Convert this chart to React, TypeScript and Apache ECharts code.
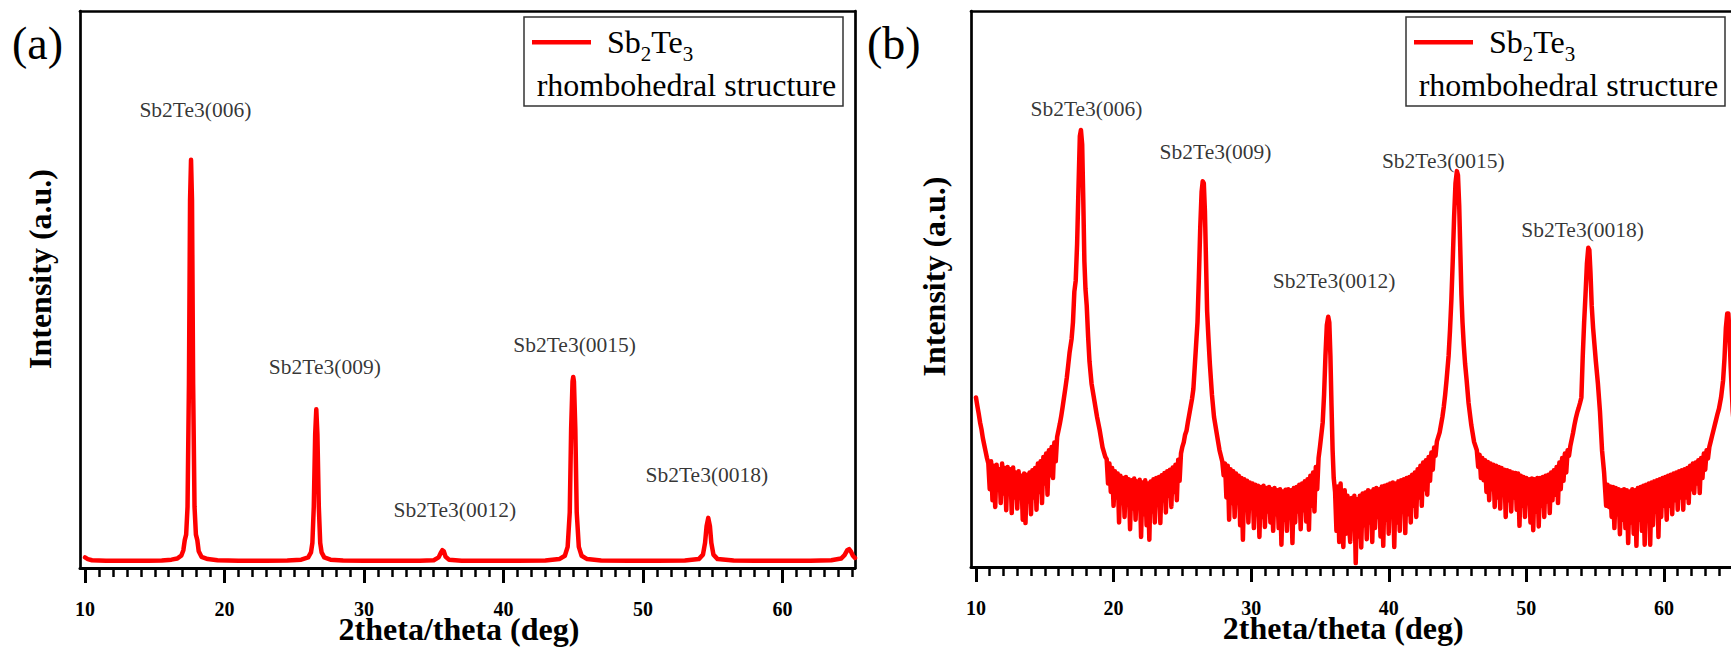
import React, { useEffect, useRef } from 'react';
import * as echarts from 'echarts';

const FONT = 'Liberation Serif';

// x-axis ticks
const majorTicks = [10, 20, 30, 40, 50, 60];
const minorTicks = [
  11, 12, 13, 14, 15, 16, 17, 18, 19,
  21, 22, 23, 24, 25, 26, 27, 28, 29,
  31, 32, 33, 34, 35, 36, 37, 38, 39,
  41, 42, 43, 44, 45, 46, 47, 48, 49,
  51, 52, 53, 54, 55, 56, 57, 58, 59,
  61, 62, 63, 64, 65,
];

// peak annotations
const peakLabels = ['Sb2Te3(006)', 'Sb2Te3(009)', 'Sb2Te3(0012)', 'Sb2Te3(0015)', 'Sb2Te3(0018)'];
const labelXA = [17.91, 27.19, 36.51, 45.1, 54.58];
const labelYA = [82.3, 36.0, 10.5, 40.1, 16.7];
const labelXB = [18.03, 27.41, 36.03, 43.96, 54.09];
const labelYB = [82.4, 74.6, 51.4, 73.1, 60.7];

// panel (a): 2theta (deg), intensity (a.u.)
const curveA: [number, number][] = [
  [10.0, 1.9], [10.2, 1.6], [10.5, 1.4], [11.5, 1.3], [13.0, 1.3], [14.5, 1.3], [15.5, 1.35], [16.2, 1.5],
  [16.6, 1.7], [16.9, 2.2], [17.05, 3.2], [17.15, 5.0], [17.25, 6.0], [17.35, 11], [17.45, 33], [17.53, 66],
  [17.6, 73.3], [17.67, 66], [17.75, 33], [17.85, 11], [17.95, 6.0], [18.05, 5.0], [18.15, 3.0], [18.35, 2.0],
  [18.8, 1.6], [19.5, 1.4], [21.0, 1.3], [23.0, 1.3], [24.5, 1.35], [25.5, 1.5], [26.0, 1.9], [26.2, 2.8],
  [26.3, 4.5], [26.4, 11], [26.5, 24], [26.58, 28.5], [26.66, 24], [26.76, 11], [26.86, 4.5], [26.96, 2.8],
  [27.15, 1.9], [27.6, 1.5], [28.5, 1.35], [30.0, 1.3], [32.0, 1.3], [34.0, 1.3], [35.0, 1.4], [35.35, 1.9],
  [35.5, 2.7], [35.62, 3.2], [35.72, 3.0], [35.85, 2.0], [36.1, 1.5], [37.0, 1.3], [39.0, 1.3], [41.0, 1.3],
  [43.0, 1.35], [44.0, 1.6], [44.4, 2.2], [44.6, 3.8], [44.75, 10], [44.85, 25], [44.95, 33.5], [45.0, 34.3],
  [45.05, 33.5], [45.15, 25], [45.25, 10], [45.4, 3.8], [45.6, 2.2], [46.0, 1.6], [47.0, 1.35], [49.0, 1.3],
  [51.0, 1.3], [53.0, 1.35], [54.0, 1.6], [54.3, 2.4], [54.45, 4.5], [54.56, 7.5], [54.68, 9.0], [54.8, 7.5],
  [54.9, 4.5], [55.05, 2.4], [55.35, 1.6], [56.5, 1.35], [58.0, 1.3], [60.0, 1.3], [62.0, 1.3], [63.5, 1.4],
  [64.2, 1.7], [64.45, 2.3], [64.65, 3.2], [64.78, 3.4], [64.9, 3.0], [65.05, 2.2], [65.2, 1.8],
];

// panel (b): 2theta (deg), intensity (a.u.)
const curveB: [number, number][] = [
  // start and background 10-16.8
  [10.0, 30.5], [10.1, 29.0], [10.2, 27.6], [10.3, 26.0], [10.4, 24.8], [10.5, 23.2], [10.6, 22.0], [10.7, 20.8],
  [10.8, 19.6], [10.9, 18.6], [11.0, 14.0], [11.1, 19.0], [11.2, 12.0], [11.3, 18.2], [11.4, 10.8], [11.5, 18.4],
  [11.6, 14.5], [11.7, 17.6], [11.8, 11.5], [11.9, 18.6], [12.0, 13.2], [12.1, 17.8], [12.2, 10.2], [12.3, 18.0],
  [12.4, 13.8], [12.5, 17.6], [12.6, 9.7], [12.7, 17.9], [12.8, 12.5], [12.9, 17.0], [13.0, 10.5], [13.1, 17.2],
  [13.2, 12.8], [13.3, 16.4], [13.4, 8.5], [13.5, 16.8], [13.6, 7.9], [13.7, 16.6], [13.8, 11.8], [13.9, 17.0],
  [14.0, 9.5], [14.1, 17.4], [14.2, 12.5], [14.3, 17.8], [14.4, 10.3], [14.5, 18.6], [14.6, 13.5], [14.7, 19.0],
  [14.8, 11.5], [14.9, 19.8], [15.0, 15.0], [15.1, 20.4], [15.2, 13.0], [15.3, 21.0], [15.4, 16.5], [15.5, 21.6],
  [15.6, 16.0], [15.7, 22.4], [15.8, 19.0], [15.9, 23.4], [16.0, 24.6], [16.1, 25.8], [16.2, 27.2], [16.3, 28.8],
  [16.4, 30.5], [16.5, 32.2], [16.6, 34.0], [16.7, 36.2], [16.8, 38.5],
  // (006)
  [16.95, 41.0], [17.05, 44.0], [17.15, 49.5], [17.25, 51.5], [17.35, 58.0], [17.45, 68.0], [17.55, 77.5], [17.63, 78.6],
  [17.72, 76.0], [17.8, 66.0], [17.88, 55.0], [17.96, 50.0], [18.05, 47.0], [18.15, 41.5], [18.25, 37.0], [18.4, 33.0],
  [18.6, 30.0], [18.8, 27.0], [19.0, 24.5], [19.2, 21.5], [19.4, 19.8],
  // background 19.5-25.8
  [19.5, 19.4], [19.6, 15.0], [19.7, 18.6], [19.8, 13.5], [19.9, 17.8], [20.0, 11.0], [20.1, 17.2], [20.2, 12.5],
  [20.3, 16.8], [20.4, 8.0], [20.5, 16.4], [20.6, 11.5], [20.7, 16.0], [20.8, 9.0], [20.9, 16.2], [21.0, 12.0],
  [21.1, 15.8], [21.2, 6.8], [21.3, 15.6], [21.4, 10.5], [21.5, 15.9], [21.6, 8.5], [21.7, 15.4], [21.8, 11.0],
  [21.9, 15.7], [22.0, 5.4], [22.1, 15.2], [22.2, 9.5], [22.3, 15.6], [22.4, 7.5], [22.5, 15.0], [22.6, 4.9],
  [22.7, 15.4], [22.8, 10.0], [22.9, 15.8], [23.0, 8.0], [23.1, 16.0], [23.2, 11.5], [23.3, 16.2], [23.4, 7.9],
  [23.5, 16.5], [23.6, 12.0], [23.7, 16.9], [23.8, 9.8], [23.9, 17.2], [24.0, 12.8], [24.1, 17.5], [24.2, 10.8],
  [24.3, 17.9], [24.4, 13.5], [24.5, 18.4], [24.6, 12.0], [24.7, 19.3], [24.8, 15.5], [24.9, 20.4], [25.0, 21.6],
  [25.1, 22.4], [25.2, 23.8], [25.3, 24.5], [25.4, 26.0], [25.5, 27.4], [25.6, 28.8], [25.7, 30.2], [25.8, 32.0],
  // (009)
  [26.0, 40.0], [26.1, 44.0], [26.2, 52.0], [26.3, 61.0], [26.4, 67.5], [26.48, 69.4], [26.56, 69.0], [26.64, 64.0],
  [26.72, 55.0], [26.8, 46.0], [26.9, 41.0], [27.0, 36.5], [27.15, 31.0], [27.3, 27.0], [27.5, 24.0], [27.7, 21.0],
  [27.9, 19.0],
  // background 28-35.2
  [28.0, 16.5], [28.1, 18.6], [28.2, 12.5], [28.3, 18.2], [28.4, 8.5], [28.5, 17.6], [28.6, 11.5], [28.7, 17.2],
  [28.8, 9.0], [28.9, 16.8], [29.0, 11.8], [29.1, 16.4], [29.2, 7.5], [29.3, 16.0], [29.4, 4.9], [29.5, 15.8],
  [29.6, 10.5], [29.7, 15.5], [29.8, 8.0], [29.9, 15.2], [30.0, 10.8], [30.1, 15.0], [30.2, 7.0], [30.3, 14.8],
  [30.4, 9.5], [30.5, 14.6], [30.6, 5.4], [30.7, 14.4], [30.8, 9.0], [30.9, 14.6], [31.0, 7.2], [31.1, 14.2],
  [31.2, 10.0], [31.3, 14.4], [31.4, 8.0], [31.5, 14.0], [31.6, 6.5], [31.7, 14.2], [31.8, 9.5], [31.9, 13.8],
  [32.0, 7.0], [32.1, 14.0], [32.2, 4.0], [32.3, 13.6], [32.4, 8.5], [32.5, 13.9], [32.6, 6.5], [32.7, 14.0],
  [32.8, 9.8], [32.9, 13.8], [33.0, 4.3], [33.1, 14.2], [33.2, 8.0], [33.3, 14.4], [33.4, 10.0], [33.5, 14.8],
  [33.6, 6.8], [33.7, 15.0], [33.8, 10.2], [33.9, 15.4], [34.0, 8.2], [34.1, 15.8], [34.2, 6.7], [34.3, 16.4],
  [34.4, 11.0], [34.5, 17.0], [34.6, 10.0], [34.7, 18.0], [34.8, 14.0], [34.9, 19.6], [35.0, 21.6], [35.1, 23.8],
  [35.2, 26.0],
  // (0012)
  [35.3, 31.0], [35.4, 38.0], [35.5, 43.5], [35.6, 45.0], [35.68, 44.0], [35.76, 38.0], [35.84, 29.0], [35.92, 21.0],
  [36.0, 16.0],
  // background 36.1-44.2
  [36.1, 13.5], [36.2, 6.5], [36.3, 14.5], [36.4, 4.5], [36.5, 15.0], [36.6, 7.5], [36.7, 3.6], [36.8, 13.8],
  [36.9, 6.0], [37.0, 12.8], [37.1, 8.0], [37.2, 4.5], [37.3, 12.4], [37.4, 7.0], [37.5, 12.8], [37.6, 0.7],
  [37.7, 12.2], [37.8, 5.5], [37.9, 12.8], [38.0, 3.5], [38.1, 13.2], [38.2, 7.5], [38.3, 13.4], [38.4, 5.0],
  [38.5, 13.8], [38.6, 8.0], [38.7, 13.6], [38.8, 4.5], [38.9, 14.0], [39.0, 7.0], [39.1, 14.2], [39.2, 9.0],
  [39.3, 14.0], [39.4, 5.5], [39.5, 14.5], [39.6, 3.8], [39.7, 14.6], [39.8, 8.5], [39.9, 14.8], [40.0, 6.0],
  [40.1, 15.0], [40.2, 9.5], [40.3, 15.2], [40.4, 3.6], [40.5, 15.0], [40.6, 8.0], [40.7, 15.4], [40.8, 6.5],
  [40.9, 15.6], [41.0, 10.0], [41.1, 15.8], [41.2, 6.1], [41.3, 16.0], [41.4, 9.5], [41.5, 16.2], [41.6, 8.0],
  [41.7, 16.6], [41.8, 11.0], [41.9, 17.0], [42.0, 9.0], [42.1, 17.6], [42.2, 12.5], [42.3, 18.2], [42.4, 11.0],
  [42.5, 18.8], [42.6, 14.0], [42.7, 19.2], [42.8, 13.0], [42.9, 19.8], [43.0, 15.5], [43.1, 20.6], [43.2, 17.5],
  [43.3, 21.5], [43.4, 20.0], [43.5, 22.6], [43.6, 23.4], [43.7, 24.2], [43.8, 25.6], [43.9, 27.0], [44.0, 28.8],
  [44.1, 31.0], [44.2, 33.6],
  // (0015)
  [44.35, 38.0], [44.45, 42.5], [44.55, 48.0], [44.65, 55.0], [44.75, 63.0], [44.85, 69.0], [44.95, 71.2], [45.03, 70.5],
  [45.12, 65.0], [45.2, 57.0], [45.28, 49.0], [45.36, 44.0], [45.45, 40.0], [45.55, 36.5], [45.66, 33.6], [45.8, 29.5],
  [46.0, 25.5], [46.2, 22.5], [46.4, 21.0],
  // background 46.5-54
  [46.5, 18.0], [46.6, 20.2], [46.7, 16.0], [46.8, 19.6], [46.9, 15.6], [47.0, 19.2], [47.1, 13.5], [47.2, 18.9],
  [47.3, 12.0], [47.4, 18.6], [47.5, 14.0], [47.6, 18.4], [47.7, 10.8], [47.8, 18.2], [47.9, 12.5], [48.0, 18.0],
  [48.1, 10.5], [48.2, 17.8], [48.3, 13.0], [48.4, 17.5], [48.5, 9.0], [48.6, 17.4], [48.7, 12.0], [48.8, 17.2],
  [48.9, 10.0], [49.0, 17.0], [49.1, 12.5], [49.2, 16.9], [49.3, 10.3], [49.4, 16.8], [49.5, 7.4], [49.6, 16.4],
  [49.7, 11.0], [49.8, 16.2], [49.9, 9.0], [50.0, 16.0], [50.1, 11.5], [50.2, 15.8], [50.3, 8.0], [50.4, 15.9],
  [50.5, 6.6], [50.6, 15.8], [50.7, 10.0], [50.8, 16.0], [50.9, 7.3], [51.0, 16.0], [51.1, 11.0], [51.2, 16.2],
  [51.3, 9.0], [51.4, 16.4], [51.5, 11.8], [51.6, 16.6], [51.7, 9.7], [51.8, 17.0], [51.9, 12.0], [52.0, 17.4],
  [52.1, 13.0], [52.2, 18.0], [52.3, 11.5], [52.4, 18.8], [52.5, 14.0], [52.6, 19.6], [52.7, 15.5], [52.8, 20.4],
  [52.9, 17.0], [53.0, 21.0], [53.1, 20.0], [53.2, 21.8], [53.3, 23.0], [53.4, 24.2], [53.5, 25.6], [53.6, 26.8],
  [53.7, 27.8], [53.8, 28.6], [53.9, 29.5], [54.0, 30.5],
  // (0018)
  [54.1, 38.0], [54.2, 44.0], [54.3, 49.0], [54.4, 54.5], [54.5, 57.4], [54.58, 57.0], [54.66, 53.0], [54.75, 47.0],
  [54.85, 43.0], [54.95, 40.0], [55.05, 37.0], [55.2, 33.0], [55.35, 28.0], [55.5, 21.0], [55.65, 17.0],
  // background 55.7-64
  [55.7, 15.0], [55.8, 11.0], [55.9, 14.8], [56.0, 10.8], [56.1, 14.5], [56.2, 9.0], [56.3, 14.4], [56.4, 7.0],
  [56.5, 14.2], [56.6, 9.5], [56.7, 14.0], [56.8, 5.9], [56.9, 13.8], [57.0, 8.5], [57.1, 14.0], [57.2, 7.0],
  [57.3, 13.8], [57.4, 4.3], [57.5, 13.6], [57.6, 8.0], [57.7, 14.0], [57.8, 6.0], [57.9, 13.8], [58.0, 3.8],
  [58.1, 14.2], [58.2, 8.5], [58.3, 14.4], [58.4, 6.5], [58.5, 14.6], [58.6, 4.0], [58.7, 14.8], [58.8, 9.0],
  [58.9, 15.0], [59.0, 4.0], [59.1, 15.2], [59.2, 7.5], [59.3, 15.4], [59.4, 10.0], [59.5, 15.6], [59.6, 5.4],
  [59.7, 15.8], [59.8, 9.0], [59.9, 16.0], [60.0, 11.0], [60.1, 16.2], [60.2, 8.5], [60.3, 16.4], [60.4, 11.0],
  [60.5, 16.6], [60.6, 9.5], [60.7, 16.8], [60.8, 12.0], [60.9, 17.0], [61.0, 10.3], [61.1, 17.2], [61.2, 12.5],
  [61.3, 17.4], [61.4, 10.3], [61.5, 17.6], [61.6, 12.5], [61.7, 17.8], [61.8, 11.5], [61.9, 18.2], [62.0, 14.0],
  [62.1, 18.6], [62.2, 13.3], [62.3, 18.8], [62.4, 15.0], [62.5, 19.2], [62.6, 13.3], [62.7, 19.6], [62.8, 16.0],
  [62.9, 20.4], [63.0, 17.5], [63.1, 21.0], [63.2, 19.5], [63.3, 21.6], [63.4, 22.6], [63.5, 23.6], [63.6, 24.6],
  [63.7, 25.6], [63.8, 26.6], [63.9, 27.6], [64.0, 28.5],
  // (0021), cut by the right edge
  [64.15, 30.5], [64.3, 33.6], [64.4, 37.5], [64.5, 43.0], [64.6, 45.6], [64.68, 45.6], [64.76, 42.0], [64.85, 36.0],
  [65.0, 28.0], [65.2, 22.0],
];

const X_MIN = 9.64;
const X_MAX = 65.2;
const Y_MIN = 0;
const Y_MAX = 100;
const SERIES_NAME = 'Sb2Te3';
const RED = '#ff0000';

function buildXAxes(gridIndex: number, titlePad: number) {
  const base = { gridIndex, type: 'value' as const, min: X_MIN, max: X_MAX, splitLine: { show: false } };
  return [
    {
      ...base,
      position: 'bottom',
      axisLine: { show: true, onZero: false, lineStyle: { color: '#000', width: 3 } },
      axisTick: { show: true, customValues: majorTicks, length: 15, lineStyle: { color: '#000', width: 3 } },
      axisLabel: {
        show: true, customValues: majorTicks, margin: 31,
        fontFamily: FONT, fontSize: 20, fontWeight: 'bold', color: '#000',
      },
      name: '2theta/theta (deg)',
      nameLocation: 'middle',
      nameGap: 45,
      nameMoveOverlap: false,
      nameTextStyle: { fontFamily: FONT, fontSize: 32, fontWeight: 'bold', color: '#000', padding: [0, titlePad, 0, 0] },
    },
    {
      ...base,
      position: 'bottom',
      axisLine: { show: false, onZero: false },
      axisTick: { show: true, customValues: minorTicks, length: 9, lineStyle: { color: '#000', width: 2.5 } },
      axisLabel: { show: false },
    },
    {
      ...base,
      position: 'top',
      axisLine: { show: true, onZero: false, lineStyle: { color: '#000', width: 2.7 } },
      axisTick: { show: false },
      axisLabel: { show: false },
    },
  ];
}

function buildYAxes(gridIndex: number, nameGap: number, shiftPad: number) {
  const base = {
    gridIndex, type: 'value' as const, min: Y_MIN, max: Y_MAX,
    splitLine: { show: false }, axisTick: { show: false }, axisLabel: { show: false },
  };
  return [
    {
      ...base,
      position: 'left',
      axisLine: { show: true, onZero: false, lineStyle: { color: '#000', width: 2.7 } },
      name: 'Intensity (a.u.)',
      nameLocation: 'middle',
      nameGap,
      nameMoveOverlap: false,
      nameTextStyle: { fontFamily: FONT, fontSize: 32, fontWeight: 'bold', color: '#000', padding: [0, 0, 0, shiftPad] },
    },
    {
      ...base,
      position: 'right',
      axisLine: { show: true, onZero: false, lineStyle: { color: '#000', width: 2.7 } },
    },
  ];
}

function legendFor(left: number) {
  return {
    left,
    top: 26,
    padding: 0,
    orient: 'horizontal',
    selectedMode: false,
    itemWidth: 59,
    itemHeight: 4.5,
    data: [{ name: SERIES_NAME, icon: 'rect', itemStyle: { color: RED } }],
    formatter: () => '{m|Sb}{s|2}{m|Te}{s|3}',
    textStyle: {
      padding: [0, 0, 0, 11],
      rich: {
        m: { fontFamily: FONT, fontSize: 32, color: '#000', padding: [6, 0, 0, 0], verticalAlign: 'top' },
        s: { fontFamily: FONT, fontSize: 21, color: '#000', padding: [23.5, 0, 0, 0], verticalAlign: 'top' },
      },
    },
  };
}

function legendDecor(boxLeft: number) {
  return [
    {
      type: 'rect',
      z: 1,
      shape: { x: boxLeft, y: 17, width: 319, height: 89 },
      style: { fill: 'none', stroke: '#333', lineWidth: 1.5 },
    },
    {
      type: 'text',
      z: 5,
      x: boxLeft + 12.7,
      y: 84.5,
      style: {
        text: 'rhombohedral structure',
        fontFamily: FONT,
        fontSize: 32,
        fill: '#000',
        verticalAlign: 'middle',
        align: 'left',
      },
    },
  ];
}

function labelSeries(xs: number[], ys: number[], xAxisIndex: number, yAxisIndex: number) {
  return {
    type: 'scatter',
    xAxisIndex,
    yAxisIndex,
    silent: true,
    z: 5,
    symbol: 'rect',
    symbolSize: 1,
    itemStyle: { color: 'rgba(0,0,0,0)' },
    label: {
      show: true,
      position: 'inside',
      formatter: '{b}',
      fontFamily: FONT,
      fontSize: 21.5,
      color: '#000',
    },
    data: xs.map((x, i) => ({ name: peakLabels[i], value: [x, ys[i]] })),
  };
}

export default function App() {
  const ref = useRef<HTMLDivElement>(null);

  useEffect(() => {
    document.body.style.margin = '0';
    if (!ref.current) return;
    const chart = echarts.init(ref.current, undefined, { renderer: 'svg' });
    chart.setOption({
      animation: false,
      backgroundColor: '#fff',
      textStyle: { fontFamily: FONT },
      title: [
        { text: '(a)', left: 12, top: 20, padding: 0, textStyle: { fontFamily: FONT, fontSize: 46, fontWeight: 'normal', color: '#000' } },
        { text: '(b)', left: 867, top: 20, padding: 0, textStyle: { fontFamily: FONT, fontSize: 46, fontWeight: 'normal', color: '#000' } },
      ],
      grid: [
        { left: 80, top: 11, width: 775, height: 557, outerBoundsMode: 'none', containLabel: false },
        { left: 971, top: 11, width: 764.5, height: 556, outerBoundsMode: 'none', containLabel: false },
      ],
      xAxis: [...buildXAxes(0, 17), ...buildXAxes(1, 20)],
      yAxis: [...buildYAxes(0, 24, 41), ...buildYAxes(1, 21, 25)],
      legend: [legendFor(532), legendFor(1414)],
      graphic: [...legendDecor(524), ...legendDecor(1406)],
      series: [
        {
          name: SERIES_NAME,
          type: 'line',
          xAxisIndex: 0,
          yAxisIndex: 0,
          data: curveA,
          showSymbol: false,
          symbol: 'none',
          lineStyle: { color: RED, width: 4.5, cap: 'round', join: 'round' },
          itemStyle: { color: RED },
          z: 3,
        },
        labelSeries(labelXA, labelYA, 0, 0),
        {
          name: SERIES_NAME,
          type: 'line',
          xAxisIndex: 3,
          yAxisIndex: 2,
          data: curveB,
          showSymbol: false,
          symbol: 'none',
          lineStyle: { color: RED, width: 4.5, cap: 'round', join: 'round' },
          itemStyle: { color: RED },
          z: 3,
        },
        labelSeries(labelXB, labelYB, 3, 2),
      ],
    });
    return () => chart.dispose();
  }, []);

  return (
    <div
      ref={ref}
      style={{ position: 'absolute', left: 0, top: 0, width: 1731, height: 649 }}
    />
  );
}
